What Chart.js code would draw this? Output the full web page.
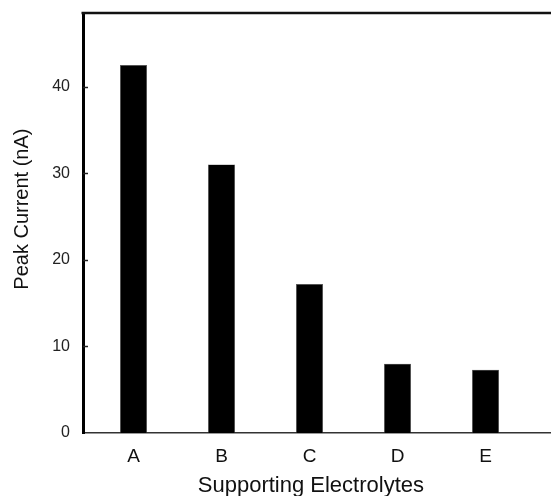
<!DOCTYPE html>
<html>
<head>
<meta charset="utf-8">
<script src="https://cdn.jsdelivr.net/npm/chart.js@4/dist/chart.umd.min.js"></script>
<style>
  html, body { margin: 0; padding: 0; background: #ffffff; }
  #wrap { width: 551px; height: 496px; position: relative; }
</style>
</head>
<body>
<div id="wrap"><canvas id="chart"></canvas></div>
<script>
// Supporting electrolytes and the peak current measured with each
const categories = ['A', 'B', 'C', 'D', 'E'];
const peakCurrent = [42.5, 31.0, 17.2, 8.0, 7.3];
const yTicks = [0, 10, 20, 30, 40];

const FONT = '"Liberation Sans", Arial, sans-serif';

// Frame line along the top and short inward ticks on the y axis
const frameAndTicks = {
  id: 'frameAndTicks',
  afterDraw(chart) {
    const { ctx, chartArea } = chart;
    const y = chart.scales.y;
    ctx.save();
    ctx.strokeStyle = '#111';
    ctx.lineWidth = 2.5;
    ctx.beginPath();
    ctx.moveTo(chartArea.left - 1.5, chartArea.top);
    ctx.lineTo(chartArea.right, chartArea.top);
    ctx.stroke();
    ctx.lineWidth = 1.5;
    ctx.strokeStyle = '#222';
    y.ticks.forEach(t => {
      if (t.value === 0) return;
      const py = Math.round(y.getPixelForValue(t.value)) + 0.5;
      ctx.beginPath();
      ctx.moveTo(chartArea.left, py);
      ctx.lineTo(chartArea.left + 5, py);
      ctx.stroke();
    });
    ctx.restore();
  }
};

new Chart(document.getElementById('chart'), {
  type: 'bar',
  data: {
    datasets: [{
      data: categories.map((c, i) => ({ x: i + 1, y: peakCurrent[i] })),
      backgroundColor: '#000',
      borderColor: '#555',
      borderWidth: 0.5,
      barPercentage: 0.307,
      categoryPercentage: 1
    }]
  },
  options: {
    responsive: true,
    maintainAspectRatio: false,
    animation: false,
    layout: { padding: { top: 13, right: 0, left: 0, bottom: 0 } },
    plugins: { legend: { display: false }, tooltip: { enabled: false } },
    scales: {
      x: {
        type: 'linear',
        offset: false,
        min: 0.426,
        max: 5.744,
        afterBuildTicks: s => { s.ticks = categories.map((c, i) => ({ value: i + 1 })); },
        afterFit: s => { s.height = 63; s.paddingLeft = 0; s.paddingRight = 0; },
        grid: { display: false, drawTicks: false },
        border: { display: true, color: '#333', width: 1.5 },
        ticks: {
          padding: 12,
          maxRotation: 0,
          autoSkip: false,
          color: '#111',
          font: { family: FONT, size: 19 },
          callback: v => categories[v - 1] || ''
        },
        title: {
          display: true,
          text: 'Supporting Electrolytes\u00A0\u00A0',
          color: '#111',
          font: { family: FONT, size: 22 },
          padding: { top: -3, bottom: -3 }
        }
      },
      y: {
        min: 0,
        max: 48.5,
        afterBuildTicks: s => { s.ticks = yTicks.map(v => ({ value: v })); },
        afterFit: s => { s.width = 83; s.paddingTop = 0; s.paddingBottom = 0; },
        grid: { display: false, drawTicks: false },
        border: { display: true, color: '#000', width: 3 },
        ticks: {
          padding: 13,
          color: '#222',
          font: { family: FONT, size: 16 }
        },
        title: {
          display: true,
          text: '\u00A0\u00A0\u00A0\u00A0\u00A0Peak Current (nA)',
          color: '#111',
          font: { family: FONT, size: 20 },
          padding: { top: 10, bottom: 10 }
        }
      }
    }
  },
  plugins: [frameAndTicks]
});
</script>
</body>
</html>
